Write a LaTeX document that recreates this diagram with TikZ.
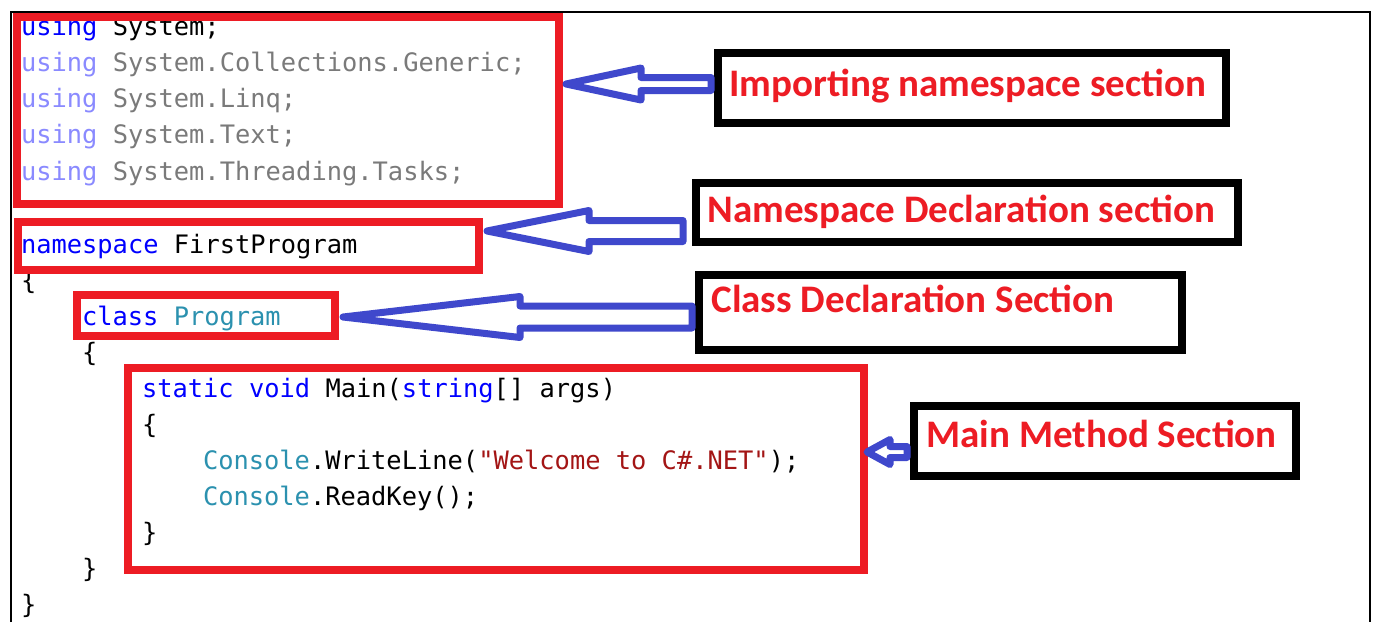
\documentclass[tikz,border=0pt]{standalone}
\usepackage{fontspec}
\setmainfont{Carlito}
\newfontfamily\codefont{DejaVu Sans Mono}
\usetikzlibrary{calc,fit}

\definecolor{boxred}{HTML}{ED1C24}
\definecolor{arrowblue}{HTML}{3F48CC}
\definecolor{kwblue}{HTML}{0000FF}
\definecolor{fadedblue}{HTML}{8A8AFF}
\definecolor{fadedgray}{HTML}{7A7A7A}
\definecolor{typeteal}{HTML}{2B91AF}
\definecolor{strred}{HTML}{A31515}

\tikzset{
  code/.style={anchor=base west, inner sep=0pt, outer sep=0pt,
    font=\codefont\fontsize{12.7}{14}\selectfont},
  redbox/.style={draw=boxred, line width=4pt, inner sep=0pt},
  blackbox/.style={draw=black, line width=4pt, inner sep=0pt},
  labeltext/.style={anchor=base west, inner sep=0pt, text=boxred,
    font=\fontsize{19.5}{22}\selectfont\bfseries},
  hollowarrow/.style={draw=arrowblue, line width=3.5pt, line join=round, fill=white},
}

% block arrow pointing left: tip, tail end, head length, head half-height, shaft half-height
\newcommand{\blockarrow}[5]{%
  \draw[hollowarrow] (#1) -- ($(#1)+(#3,-#4)$) -- ($(#1)+(#3,-#5)$)
    -- ($(#2)+(0,-#5)$) -- ($(#2)+(0,#5)$) -- ($(#1)+(#3,#5)$)
    -- ($(#1)+(#3,#4)$) -- cycle;}

\newcommand{\kw}[1]{\textcolor{kwblue}{#1}}
\newcommand{\ty}[1]{\textcolor{typeteal}{#1}}

\begin{document}
\begin{tikzpicture}[x=0.5pt, y=-0.5pt]
\useasboundingbox (0,0) rectangle (1376,622);
\fill[white] (0,0) rectangle (1376,622);

% editor frame
\draw[black, line width=1pt] (11,622) -- (11,12) -- (1370,12) -- (1370,622);

% source code
\node[code] (c1)  at (21,35)  {\kw{using} System;};
\node[code] (c2)  at (21,71)  {\textcolor{fadedblue}{using} \textcolor{fadedgray}{System.Collections.Generic;}};
\node[code] (c3)  at (21,107) {\textcolor{fadedblue}{using} \textcolor{fadedgray}{System.Linq;}};
\node[code] (c4)  at (21,143) {\textcolor{fadedblue}{using} \textcolor{fadedgray}{System.Text;}};
\node[code] (c5)  at (21,180) {\textcolor{fadedblue}{using} \textcolor{fadedgray}{System.Threading.Tasks;}};
\node[code] (c7)  at (21,253) {\kw{namespace} FirstProgram};
\node[code] (c8)  at (21,289) {\{};
\node[code] (c9)  at (82,325) {\kw{class} \ty{Program}};
\node[code] (c10) at (82,361) {\{};
\node[code] (c11) at (142,397) {\kw{static} \kw{void} Main(\kw{string}[] args)};
\node[code] (c12) at (142,433) {\{};
\node[code] (c13) at (203,469) {\ty{Console}.WriteLine(\textcolor{strred}{"Welcome to C\#.NET"});};
\node[code] (c14) at (203,505) {\ty{Console}.ReadKey();};
\node[code] (c15) at (142,541) {\}};
\node[code] (c16) at (82,577)  {\}};
\node[code] (c17) at (21,613)  {\}};

% highlighted sections
\node[redbox, fit={(17,17) (559,204)}]   (R1) {};
\node[redbox, fit={(18,222) (479,270)}]  (R2) {};
\node[redbox, fit={(77,295) (335,336)}]  (R3) {};
\node[redbox, fit={(128,368) (864,570)}] (R4) {};

% section labels
\node[blackbox, fit={(718,53) (1226,123)}]  (L1) {};
\node[blackbox, fit={(696,183) (1238,242)}] (L2) {};
\node[blackbox, fit={(699,275) (1182,350)}] (L3) {};
\node[blackbox, fit={(914,406) (1296,476)}] (L4) {};
\node[labeltext] (T1) at (729,96)  {Importing namespace section};
\node[labeltext] (T2) at (707,222) {Namespace Declaration section};
\node[labeltext] (T3) at (711,312) {Class Declaration Section};
\node[labeltext] (T4) at (926,447) {Main Method Section};

% arrows from labels to sections
\coordinate (a1) at ($(R1.east |- 0,84)+(3,0)$);
\coordinate (a2) at ($(R2.east |- 0,231)+(4,0)$);
\coordinate (a3) at ($(R3.east |- 0,317)+(4,0)$);
\coordinate (a4) at ($(R4.east |- 0,452)+(-1,0)$);
\coordinate (e1) at ($(L1.west |- a1)+(-3,0)$);
\coordinate (e2) at ($(L2.west |- a2)+(-9,0)$);
\coordinate (e3) at ($(L3.west |- a3)+(-3,0)$);
\coordinate (e4) at ($(L4.west |- a4)+(-3,0)$);
\blockarrow{a1}{e1}{75}{16}{6.5}
\blockarrow{a2}{e2}{102}{20.5}{10.5}
\blockarrow{a3}{e3}{177}{20.5}{11}
\blockarrow{a4}{e4}{23}{12.5}{5.5}
\end{tikzpicture}
\end{document}
